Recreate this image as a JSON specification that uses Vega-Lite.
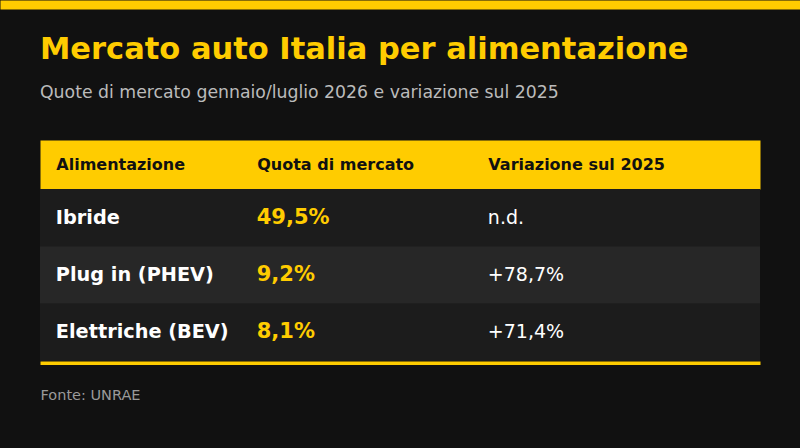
{
  "$schema": "https://vega.github.io/schema/vega-lite/v6.json",
  "width": 720,
  "height": 172,
  "autosize": {"type": "none"},
  "padding": {"left": 40, "top": 189, "right": 40, "bottom": 87},
  "background": "#111111",
  "title": {
    "text": "Mercato auto Italia per alimentazione",
    "subtitle": "Quote di mercato gennaio/luglio 2026 e variazione sul 2025",
    "anchor": "start",
    "frame": "group",
    "offset": -97,
    "font": "DejaVu Sans",
    "fontSize": 30.5,
    "fontWeight": "bold",
    "color": "#FFCC00",
    "subtitleFont": "DejaVu Sans",
    "subtitleFontSize": 17.3,
    "subtitleColor": "#BBBBBB",
    "subtitlePadding": 19
  },
  "data": {
    "values": [
      {"alimentazione": "Ibride", "quota": "49,5%", "variazione": "n.d."},
      {"alimentazione": "Plug in (PHEV)", "quota": "9,2%", "variazione": "+78,7%"},
      {"alimentazione": "Elettriche (BEV)", "quota": "8,1%", "variazione": "+71,4%"}
    ]
  },
  "config": {
    "view": {"stroke": null},
    "text": {"font": "DejaVu Sans", "align": "left", "baseline": "middle"}
  },
  "resolve": {"axis": {"x": "independent"}, "scale": {"x": "independent"}},
  "layer": [
    {
      "mark": {"type": "rect"},
      "encoding": {
        "y": {
          "field": "alimentazione",
          "type": "nominal",
          "sort": null,
          "scale": {"paddingInner": 0, "paddingOuter": 0},
          "axis": null
        },
        "color": {
          "field": "alimentazione",
          "type": "nominal",
          "scale": {
            "domain": ["Ibride", "Plug in (PHEV)", "Elettriche (BEV)"],
            "range": ["#1C1C1C", "#272727", "#1C1C1C"]
          },
          "legend": null
        }
      }
    },
    {
      "mark": {"type": "text", "fontSize": 19.3, "fontWeight": "bold", "color": "#FFFFFF"},
      "encoding": {
        "x": {
          "datum": 2.2,
          "type": "quantitative",
          "scale": {"domain": [0, 100]},
          "axis": {
            "orient": "top",
            "offset": 24.5,
            "zindex": 0,
            "domain": true,
            "domainColor": "#FFCC00",
            "domainWidth": 49,
            "domainCap": "butt",
            "ticks": false,
            "labels": false,
            "grid": false,
            "title": null
          }
        },
        "y": {"field": "alimentazione", "type": "nominal", "sort": null},
        "text": {"field": "alimentazione"}
      }
    },
    {
      "mark": {"type": "text", "fontSize": 21, "fontWeight": "bold", "color": "#FFCC00"},
      "encoding": {
        "x": {
          "datum": 30.1,
          "type": "quantitative",
          "scale": {"domain": [0, 100]},
          "axis": {
            "orient": "bottom",
            "offset": 1.75,
            "domain": true,
            "domainColor": "#FFCC00",
            "domainWidth": 3.5,
            "domainCap": "butt",
            "ticks": false,
            "labels": false,
            "grid": false,
            "title": "Fonte: UNRAE",
            "titleAnchor": "start",
            "titleAlign": "left",
            "titleFont": "DejaVu Sans",
            "titleFontSize": 14.5,
            "titleFontWeight": "normal",
            "titleColor": "#9A9A9A",
            "titlePadding": 26
          }
        },
        "y": {"field": "alimentazione", "type": "nominal", "sort": null},
        "text": {"field": "quota"}
      }
    },
    {
      "mark": {"type": "text", "fontSize": 19, "color": "#FFFFFF"},
      "encoding": {
        "x": {
          "datum": 62.2,
          "type": "quantitative",
          "scale": {"domain": [0, 100]},
          "axis": {
            "orient": "top",
            "zindex": 1,
            "values": [2.2, 30.1, 62.2],
            "labelExpr": "datum.value < 10 ? 'Alimentazione' : datum.value < 50 ? 'Quota di mercato' : 'Variazione sul 2025'",
            "offset": 24.5,
            "domain": false,
            "ticks": false,
            "tickSize": 0,
            "grid": false,
            "labelPadding": 0,
            "labelAlign": "left",
            "labelBaseline": "middle",
            "labelFlush": false,
            "labelOverlap": false,
            "labelBound": false,
            "labelFont": "DejaVu Sans",
            "labelFontSize": 16,
            "labelFontWeight": "bold",
            "labelColor": "#111111",
            "title": null
          }
        },
        "y": {"field": "alimentazione", "type": "nominal", "sort": null},
        "text": {"field": "variazione"}
      }
    },
    {
      "mark": {"type": "rule", "opacity": 0},
      "encoding": {
        "x": {
          "datum": 0,
          "type": "quantitative",
          "scale": {"domain": [0, 100], "range": [-40, 760]},
          "axis": {
            "orient": "top",
            "offset": 184.5,
            "domain": true,
            "domainColor": "#FFCC00",
            "domainWidth": 9,
            "domainCap": "butt",
            "ticks": false,
            "labels": false,
            "grid": false,
            "title": null
          }
        }
      }
    }
  ]
}
